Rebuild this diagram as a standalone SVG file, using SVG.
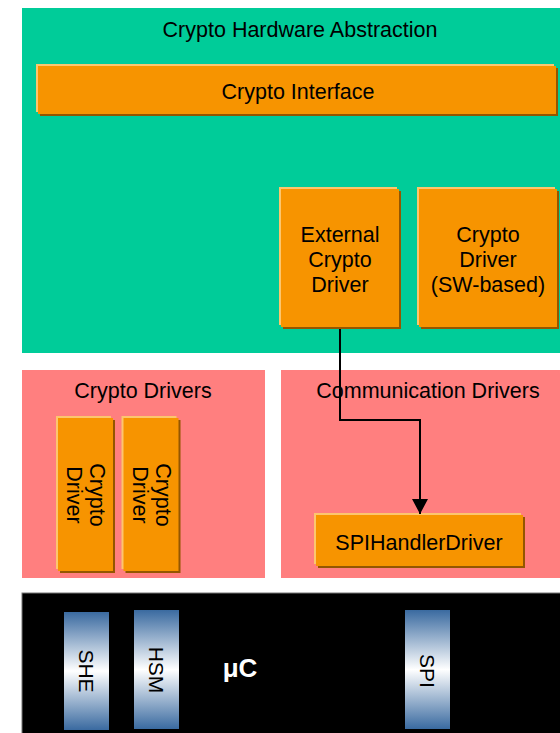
<svg xmlns="http://www.w3.org/2000/svg" width="560" height="733" viewBox="0 0 560 733">
<defs>
<linearGradient id="hw" x1="0" y1="0" x2="0" y2="1">
<stop offset="0" stop-color="#3A6AA0"/>
<stop offset="0.5" stop-color="#FFFFFF"/>
<stop offset="1" stop-color="#3A6AA0"/>
</linearGradient>
<marker id="ah" markerWidth="15" markerHeight="16" refX="15" refY="8" orient="auto" markerUnits="userSpaceOnUse" viewBox="0 0 15 16">
<path d="M0,0 L15,8 L0,16 Z" fill="#000"/>
</marker>
</defs>
<style>
text{font-family:"Liberation Sans",Arial,sans-serif;font-size:21.5px;fill:#000;text-anchor:middle}
.sh{fill:#945600}.hl{fill:#FCC66E}.bx{fill:#F79400}
.hwt{font-size:21px}
.uc{fill:#fff;font-weight:bold;font-size:26px}
</style>
<rect width="560" height="733" fill="#fff"/>
<g id="layer-hwabs">
<rect x="22" y="8" width="538" height="345" fill="#00CC99"/>
<text x="300" y="37">Crypto Hardware Abstraction</text>
</g>
<g id="layer-cryptodrv">
<rect x="22" y="370" width="243" height="208" fill="#FF7F7F"/>
<text x="143" y="398">Crypto Drivers</text>
</g>
<g id="layer-commdrv">
<rect x="281" y="370" width="279" height="208" fill="#FF7F7F"/>
<text x="428" y="398">Communication Drivers</text>
</g>
<g id="layer-uc">
<rect x="22" y="593" width="540" height="142" fill="#000" stroke="#777" stroke-width="1"/>
<text class="uc" x="240" y="677">μC</text>
</g>
<g id="crypto-interface">
<rect class="sh" x="40" y="68" width="518" height="48"/>
<rect class="hl" x="36" y="64" width="518" height="48"/>
<rect class="bx" x="38" y="66" width="518" height="48"/>
<text x="298" y="99">Crypto Interface</text>
</g>
<g id="ext-crypto-driver">
<rect class="sh" x="283" y="191" width="118" height="138"/>
<rect class="hl" x="279" y="187" width="118" height="138"/>
<rect class="bx" x="281" y="189" width="118" height="138"/>
<text x="340" y="242">External</text>
<text x="340" y="267">Crypto</text>
<text x="340" y="292">Driver</text>
</g>
<g id="sw-crypto-driver">
<rect class="sh" x="421" y="191" width="138" height="138"/>
<rect class="hl" x="417" y="187" width="138" height="138"/>
<rect class="bx" x="419" y="189" width="138" height="138"/>
<text x="488" y="242">Crypto</text>
<text x="488" y="267">Driver</text>
<text x="488" y="292">(SW-based)</text>
</g>
<g id="crypto-driver-1">
<rect class="sh" x="60" y="420" width="55" height="153"/>
<rect class="hl" x="56" y="416" width="55" height="153"/>
<rect class="bx" x="58" y="418" width="55" height="153"/>
<text transform="translate(82,495) rotate(90)" x="0" y="0"><tspan x="0" dy="-7.5">Crypto</tspan><tspan x="0" dy="22.5">Driver</tspan></text>
</g>
<g id="crypto-driver-2">
<rect class="sh" x="125.5" y="420" width="55" height="153"/>
<rect class="hl" x="121.5" y="416" width="55" height="153"/>
<rect class="bx" x="123.5" y="418" width="55" height="153"/>
<text transform="translate(148,495) rotate(90)" x="0" y="0"><tspan x="0" dy="-7.5">Crypto</tspan><tspan x="0" dy="22.5">Driver</tspan></text>
</g>
<g id="spi-handler-driver">
<rect class="sh" x="318" y="517" width="207" height="51"/>
<rect class="hl" x="314" y="513" width="207" height="51"/>
<rect class="bx" x="316" y="515" width="207" height="51"/>
<text x="419" y="550">SPIHandlerDriver</text>
</g>
<g id="hw-she">
<rect x="64" y="612" width="45" height="118" fill="url(#hw)"/>
<text class="hwt" transform="translate(86.5,671) rotate(90)" x="0" y="7.5">SHE</text>
</g>
<g id="hw-hsm">
<rect x="134" y="610" width="45" height="119" fill="url(#hw)"/>
<text class="hwt" transform="translate(156.5,670) rotate(90)" x="0" y="7.5">HSM</text>
</g>
<g id="hw-spi">
<rect x="405" y="610" width="45" height="119" fill="url(#hw)"/>
<text class="hwt" transform="translate(427.5,671) rotate(90)" x="0" y="7.5">SPI</text>
</g>
<g id="connectors">
<path d="M340,329 V420 H420 V514" fill="none" stroke="#000" stroke-width="2" marker-end="url(#ah)"/>
</g>
</svg>
